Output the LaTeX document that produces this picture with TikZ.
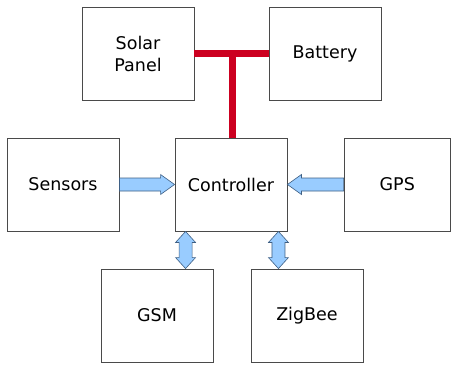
\documentclass[tikz,border=0pt]{standalone}
\usepackage{fontspec}
\setmainfont{DejaVu Sans}
\usetikzlibrary{calc}
\definecolor{boxline}{HTML}{4A4A4A}
\definecolor{pwr}{HTML}{CC0020}
\definecolor{blkfill}{HTML}{99CCFF}
\definecolor{blkline}{HTML}{3E5F84}
\begin{document}
\begin{tikzpicture}[x=1pt,y=-1pt,
  blockbox/.style={draw=boxline,line width=0.9pt,fill=white,minimum width=112pt,minimum height=93pt,inner sep=0pt,align=center,font=\fontsize{17.5}{22}\selectfont},
  pwrline/.style={draw=pwr,line width=7pt},
  blk/.style={fill=blkfill,draw=blkline,line width=0.6pt,line join=miter}]
\useasboundingbox (0,0) rectangle (452,365);
\node[blockbox] (sol) at (138,53.5) {Solar\\Panel};
\node[blockbox] (bat) at (325,53.5) {Battery};
\node[blockbox] (sen) at (63,184.5) {Sensors};
\node[blockbox] (ctl) at (231,184.5) {Controller};
\node[blockbox,minimum width=106.5pt] (gps) at (397.25,184.5) {GPS};
\node[blockbox] (gsm) at (157,315.5) {GSM};
\node[blockbox] (zig) at (307,315.5) {ZigBee};
% power T
\coordinate (tj) at ($(ctl.north)+(1,0)$);
\draw[pwrline] (sol.east) -- (bat.west);
\draw[pwrline] (tj) -- (tj |- sol.east);
% Sensors -> Controller
\draw[blk] ($(sen.east)+(0,-6.5)$) -- ($(ctl.west)+(-14,-6.5)$) -- ($(ctl.west)+(-14,-10)$) -- (ctl.west)
  -- ($(ctl.west)+(-14,10)$) -- ($(ctl.west)+(-14,6.5)$) -- ($(sen.east)+(0,6.5)$) -- cycle;
% GPS -> Controller
\draw[blk] ($(gps.west)+(0,-6.5)$) -- ($(ctl.east)+(14,-6.5)$) -- ($(ctl.east)+(14,-10)$) -- (ctl.east)
  -- ($(ctl.east)+(14,10)$) -- ($(ctl.east)+(14,6.5)$) -- ($(gps.west)+(0,6.5)$) -- cycle;
% Controller <-> GSM
\coordinate (a1) at ($(ctl.south west)+(11,0)$);
\coordinate (b1) at (a1 |- gsm.north);
\draw[blk] (a1) -- ($(a1)+(10,11)$) -- ($(a1)+(6.5,11)$) -- ($(b1)+(6.5,-11)$) -- ($(b1)+(10,-11)$) -- (b1)
  -- ($(b1)+(-10,-11)$) -- ($(b1)+(-6.5,-11)$) -- ($(a1)+(-6.5,11)$) -- ($(a1)+(-10,11)$) -- cycle;
% Controller <-> ZigBee
\coordinate (a2) at ($(ctl.south east)+(-9,0)$);
\coordinate (b2) at (a2 |- zig.north);
\draw[blk] (a2) -- ($(a2)+(10,11)$) -- ($(a2)+(6.5,11)$) -- ($(b2)+(6.5,-11)$) -- ($(b2)+(10,-11)$) -- (b2)
  -- ($(b2)+(-10,-11)$) -- ($(b2)+(-6.5,-11)$) -- ($(a2)+(-6.5,11)$) -- ($(a2)+(-10,11)$) -- cycle;
\end{tikzpicture}
\end{document}
